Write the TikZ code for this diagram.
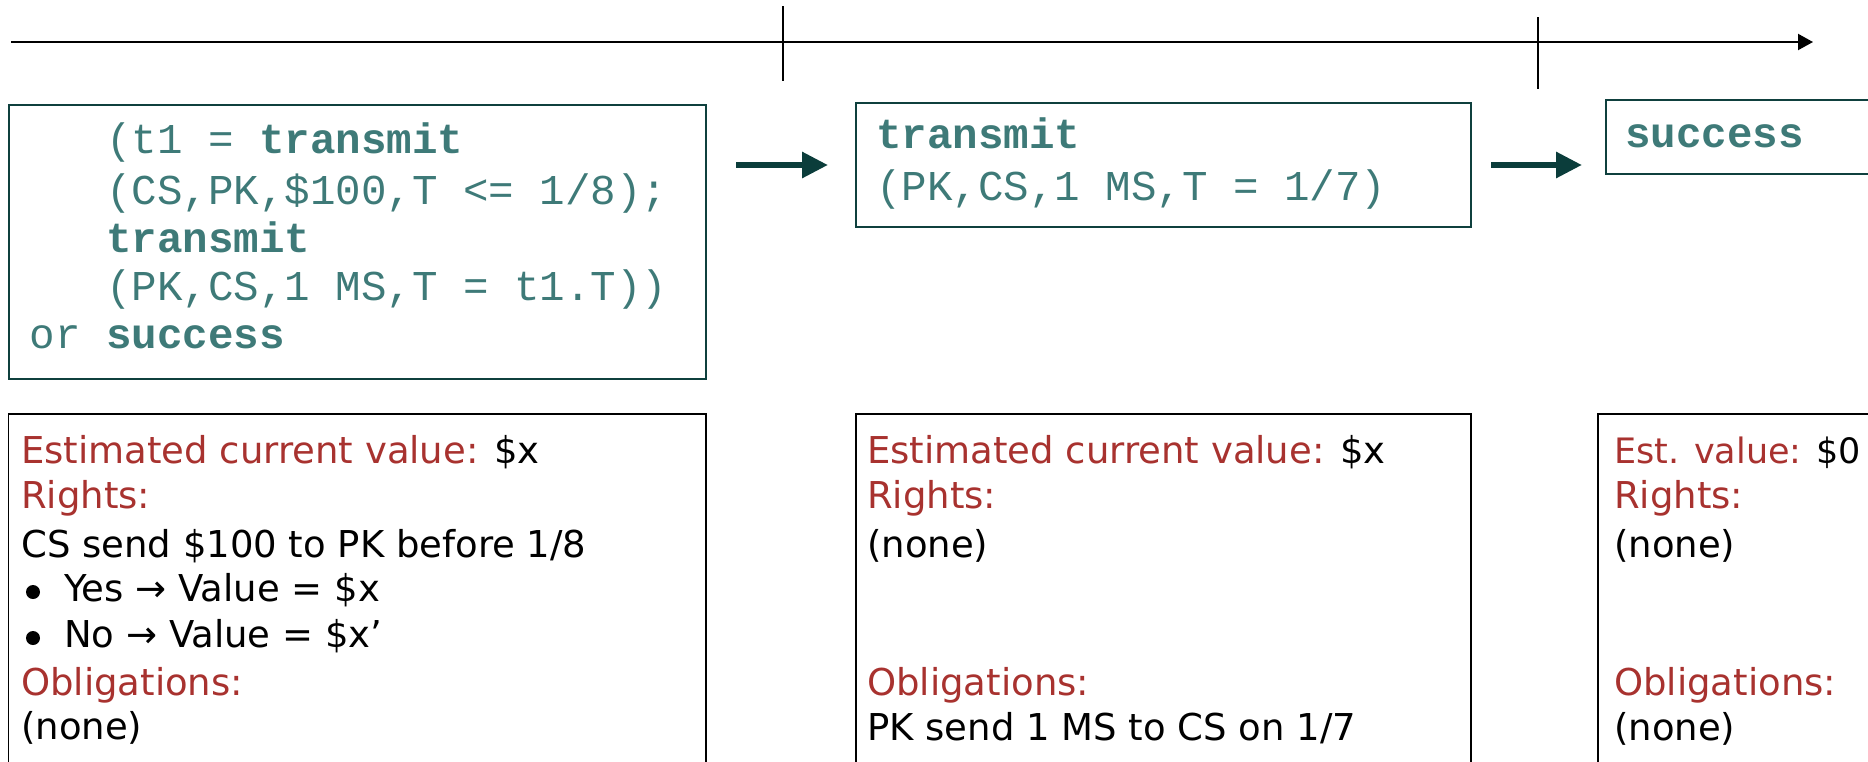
\documentclass[tikz,border=0pt]{standalone}
\usepackage{fontspec}
\usetikzlibrary{arrows.meta}
\newfontfamily\codefont{Liberation Mono}
\newfontfamily\infofont{DejaVu Sans}

\definecolor{codeteal}{HTML}{3E7A78}
\definecolor{boxteal}{HTML}{0F403E}
\definecolor{arrowteal}{HTML}{0B3D3B}
\definecolor{headred}{HTML}{A8322F}

\tikzset{
  codebox/.style={draw=boxteal, line width=2pt, rectangle, inner sep=0pt, anchor=north west},
  infobox/.style={draw=black, line width=1.6pt, rectangle, inner sep=0pt, anchor=north west},
  codeline/.style={font=\codefont\fontsize{42.5}{49}\selectfont, text=codeteal, inner sep=0pt, anchor=base west},
  infoline/.style={font=\infofont\fontsize{37}{44}\selectfont, text=black, inner sep=0pt, anchor=base west},
  headline/.style={infoline, text=headred},
  dotmark/.style={circle, fill=black, draw=none, inner sep=0pt, minimum size=14pt},
  steparrow/.style={draw=arrowteal, line width=6pt, -{Triangle[length=26pt, width=25pt]}},
  timeline/.style={draw=black, line width=2pt, -{Triangle[length=15pt, width=16pt]}},
  tickline/.style={draw=black, line width=1.6pt},
}

\begin{document}
\begin{tikzpicture}[x=1pt, y=-1pt]
  \useasboundingbox (0,0) rectangle (1868,761);
  \clip (0,0) rectangle (1868,761);

  % time axis with two ticks
  \coordinate (tlA) at (11,42);
  \coordinate (tlB) at (1813,42);
  \draw[timeline] (tlA) -- (tlB);
  \coordinate (t1top) at (783,6);
  \coordinate (t1bot) at (783,81);
  \coordinate (t2top) at (1538,17);
  \coordinate (t2bot) at (1538,89);
  \draw[tickline] (t1top) -- (t1bot);
  \draw[tickline] (t2top) -- (t2bot);

  % contract states
  \node[codebox, minimum width=697.5pt, minimum height=274pt] (c1) at (7.5,104) {};
  \node[codebox, minimum width=615pt, minimum height=124pt] (c2) at (855,102) {};
  \node[codebox, minimum width=320pt, minimum height=74pt] (c3) at (1605,99) {};

  \node[codeline] (c1l1) at (106,153) {(t1 = \textbf{transmit}};
  \node[codeline] (c1l2) at (106,204) {(CS,PK,\$100,T <= 1/8);};
  \node[codeline] (c1l3) at (106,252) {\textbf{transmit}};
  \node[codeline] (c1l4) at (106,300) {(PK,CS,1 MS,T = t1.T))};
  \node[codeline] (c1l5) at (29.5,348) {or \textbf{success}};

  \node[codeline] (c2l1) at (876,148) {\textbf{transmit}};
  \node[codeline] (c2l2) at (876,200) {(PK,CS,1 MS,T = 1/7)};

  \node[codeline] (c3l1) at (1625,147) {\textbf{success}};

  % transitions
  \draw[steparrow, shorten <=29pt, shorten >=27pt] (c1.east |- c2.west) -- (c2.west);
  \draw[steparrow, shorten <=19pt, shorten >=23pt] (c2.east) -- (c2.east -| c3.west);

  % valuations
  \node[infobox, minimum width=697.5pt, minimum height=400pt] (v1) at (7.5,413) {};
  \node[infobox, minimum width=615pt, minimum height=400pt] (v2) at (855,413) {};
  \node[infobox, minimum width=320pt, minimum height=400pt] (v3) at (1597,413) {};

  \node[headline] (v1a) at (21,463) {Estimated current value: \textcolor{black}{\$x}};
  \node[headline] (v1b) at (21,508) {Rights:};
  \node[infoline] (v1c) at (21,557) {CS send \$100 to PK before 1/8};
  \node[dotmark] (v1d0) at (33,592) {};
  \node[infoline] (v1d) at (64,601) {Yes → Value = \$x};
  \node[dotmark] (v1e0) at (33,638) {};
  \node[infoline] (v1e) at (64,647) {No → Value = \$x’};
  \node[headline] (v1f) at (21,695) {Obligations:};
  \node[infoline] (v1g) at (21,739) {(none)};

  \node[headline] (v2a) at (867,463) {Estimated current value: \textcolor{black}{\$x}};
  \node[headline] (v2b) at (867,508) {Rights:};
  \node[infoline] (v2c) at (867,557) {(none)};
  \node[headline] (v2f) at (867,695) {Obligations:};
  \node[infoline] (v2g) at (867,740) {PK send 1 MS to CS on 1/7};

  \node[headline, font=\infofont\fontsize{35}{42}\selectfont] (v3a) at (1614,463) {Est. value: \textcolor{black}{\$0}};
  \node[headline] (v3b) at (1614,508) {Rights:};
  \node[infoline] (v3c) at (1614,557) {(none)};
  \node[headline] (v3f) at (1614,695) {Obligations:};
  \node[infoline] (v3g) at (1614,740) {(none)};
\end{tikzpicture}
\end{document}
